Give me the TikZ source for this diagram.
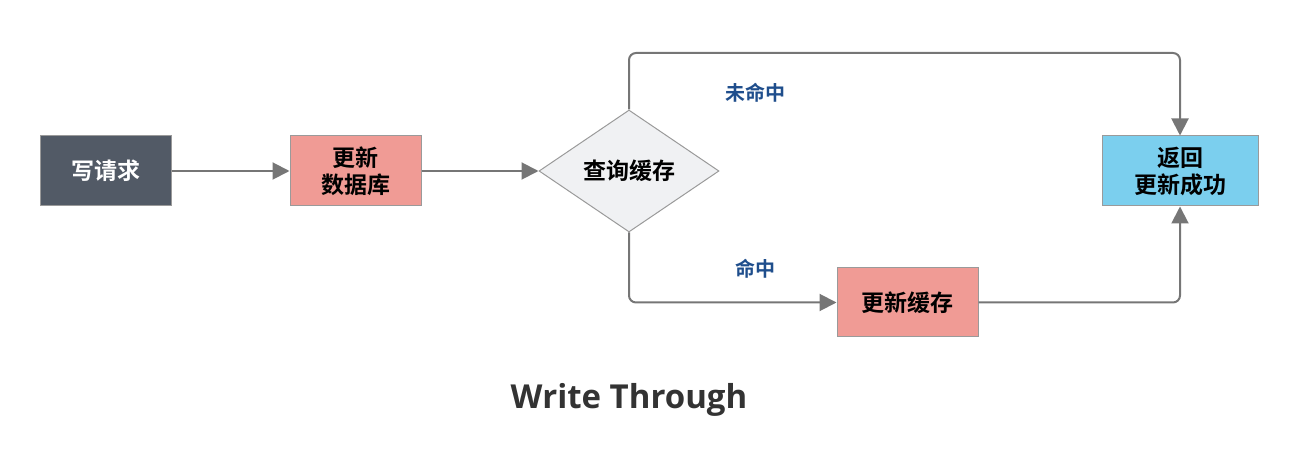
\documentclass[tikz,border=0pt]{standalone}
\usepackage{fontspec}
\setmainfont{Open Sans}
\newfontfamily\cjk{Noto Sans CJK SC}[BoldFont={Noto Sans CJK SC Bold}]
\usetikzlibrary{shapes.geometric,arrows.meta}
\definecolor{darkbox}{HTML}{525A66}
\definecolor{salmon}{HTML}{F09B95}
\definecolor{skyb}{HTML}{7BCFEE}
\definecolor{diafill}{HTML}{F0F1F3}
\definecolor{edgegray}{HTML}{9A9A9A}
\definecolor{linegray}{HTML}{767676}
\definecolor{lblblue}{HTML}{1F4E8C}
\definecolor{titlec}{HTML}{333333}
\begin{document}
\begin{tikzpicture}[x=1pt,y=-1pt,
  box/.style={draw=edgegray,line width=1pt,minimum width=131pt,minimum height=70pt,inner sep=0pt,align=center,font=\cjk\bfseries\fontsize{23}{27}\selectfont},
  conn/.style={draw=linegray,line width=2pt,-{Triangle[length=17pt,width=17pt]},rounded corners=7pt},
  lbl/.style={text=lblblue,font=\cjk\bfseries\fontsize{20}{22}\selectfont}]
\useasboundingbox (0,0) rectangle (1296,470);
\node[box,fill=darkbox,text=white] (req) at (105.5,171) {\raisebox{-2pt}{写请求}};
\node[box,fill=salmon] (db) at (355.5,171) {\raisebox{-2pt}{更新}\\\raisebox{-2pt}{数据库}};
\node[diamond,draw=edgegray,line width=1pt,fill=diafill,minimum width=180pt,minimum height=122pt,aspect=1.475,inner sep=0pt,font=\cjk\bfseries\fontsize{23}{27}\selectfont] (q) at (629,171) {\raisebox{-2pt}{查询缓存}};
\node[box,fill=skyb,minimum width=156pt] (ret) at (1180,171) {\raisebox{-2pt}{返回}\\\raisebox{-2pt}{更新成功}};
\node[box,fill=salmon,minimum width=141pt,minimum height=69pt] (uc) at (907.5,302.5) {\raisebox{-2pt}{更新缓存}};
\draw[conn] (req) -- (db);
\draw[conn] (db) -- (q);
\draw[conn] (q.north) -- (629,53) -| (ret.north);
\draw[conn] (q.south) |- (uc.west);
\draw[conn] (uc.east) -| (ret.south);
\node[lbl] (miss) at (755,93) {未命中};
\node[lbl] (hit) at (755,269) {命中};
\node[text=titlec,font=\fontsize{33}{38}\selectfont\bfseries] (title) at (629,400) {Write Through};
\end{tikzpicture}
\end{document}
